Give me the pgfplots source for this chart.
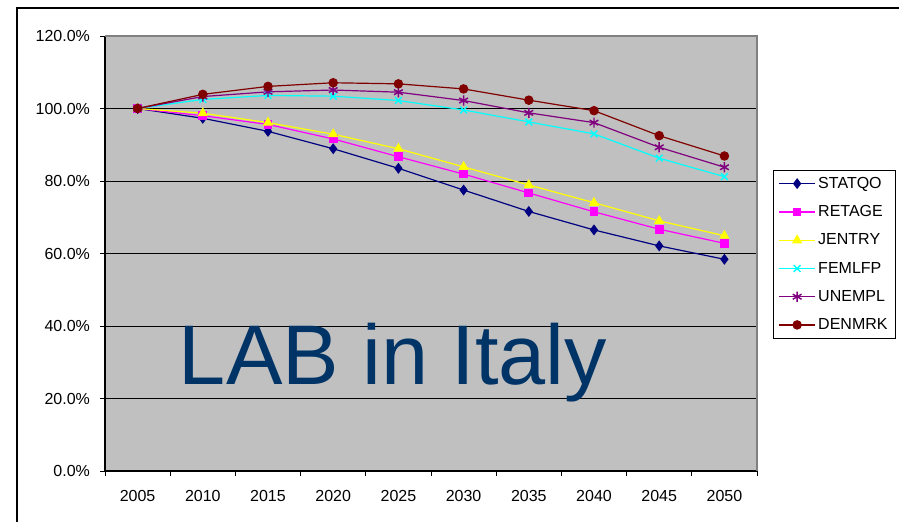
\documentclass[border=0pt]{standalone}
\usepackage{fontspec}
\setmainfont{Liberation Sans}
\usepackage{pgfplots}
\pgfplotsset{compat=1.18}
\definecolor{plotgray}{HTML}{C0C0C0}
\definecolor{framegray}{HTML}{808080}
\definecolor{titleblue}{HTML}{003366}
\definecolor{statqo}{HTML}{000080}
\definecolor{retage}{HTML}{FF00FF}
\definecolor{jentry}{HTML}{FFFF00}
\definecolor{femlfp}{HTML}{00FFFF}
\definecolor{unempl}{HTML}{800080}
\definecolor{denmrk}{HTML}{800000}

\pgfplotstableread{
year statqo retage jentry femlfp unempl denmrk
2005 100.0 100.0 100.0 100.0 100.0 100.0
2010 97.3 98.0 98.7 102.5 103.3 103.9
2015 93.7 95.6 96.1 103.6 104.6 106.1
2020 88.9 91.6 92.9 103.4 105.1 107.1
2025 83.5 86.7 88.9 102.2 104.5 106.8
2030 77.5 81.9 83.9 99.6 102.2 105.4
2035 71.6 76.7 78.9 96.3 98.8 102.3
2040 66.5 71.5 74.0 93.0 96.1 99.4
2045 62.1 66.7 69.0 86.3 89.3 92.5
2050 58.4 62.8 64.9 81.2 83.8 86.9
}\labdata

\begin{document}
\begin{tikzpicture}
  \useasboundingbox (0,0) rectangle (674.25pt,391.5pt);
  % chart frame (only left and top edges are visible)
  \draw[line width=1.1pt] (12.75pt,0) -- (12.75pt,385.5pt) -- (674.25pt,385.5pt);
  \begin{axis}[
    scale only axis,
    width=489pt,
    height=326.25pt,
    at={(78.75pt,38.25pt)},
    anchor=south west,
    xmin=2002.5, xmax=2052.5,
    ymin=0, ymax=120,
    axis lines=left,
    axis line style={-, black, line width=0.8pt},
    axis background/.style={fill=plotgray},
    xtick={2005,2010,...,2050},
    xticklabels={2005,2010,2015,2020,2025,2030,2035,2040,2045,2050},
    minor xtick={2002.5,2007.5,...,2052.5},
    ytick={0,20,...,120},
    yticklabels={0.0\%,20.0\%,40.0\%,60.0\%,80.0\%,100.0\%,120.0\%},
    tick align=outside,
    major tick length=3.75pt,
    minor tick length=3.75pt,
    x tick style={draw=none},
    minor x tick style={draw=black, line width=0.6pt},
    y tick style={black, line width=0.6pt},
    ymajorgrids,
    major grid style={black, line width=0.6pt},
    tick label style={font=\fontsize{12}{14}\selectfont},
    xticklabel style={yshift=-7.5pt},
    yticklabel style={xshift=-4pt},
    /pgf/number format/assume math mode=true,
    every axis plot/.append style={line width=0.9pt},
    legend style={
      at={(1.0245,0.692)}, anchor=north west,
      draw=black, fill=white, line width=0.6pt,
      font=\fontsize{12}{14}\selectfont,
      row sep=7.4pt, inner xsep=4pt, inner ysep=3pt,
      cells={anchor=west},
    },
    legend image code/.code={
      \draw[mark repeat=2, mark phase=2]
        plot coordinates {(0cm,0cm) (0.47cm,0cm) (0.94cm,0cm)};
    },
    clip=false,
  ]
    \addplot[statqo, mark=diamond*, mark size=3.4pt] table[x=year, y=statqo] {\labdata};
    \addlegendentry{STATQO}
    \addplot[retage, mark=square*, mark size=2.8pt] table[x=year, y=retage] {\labdata};
    \addlegendentry{RETAGE}
    \addplot[jentry, mark=triangle*, mark size=3.6pt] table[x=year, y=jentry] {\labdata};
    \addlegendentry{JENTRY}
    \addplot[femlfp, mark=x, mark size=3.6pt, mark options={line width=1.1pt}] table[x=year, y=femlfp] {\labdata};
    \addlegendentry{FEMLFP}
    \addplot[unempl, mark=asterisk, mark size=3.8pt, mark options={line width=1.1pt}] table[x=year, y=unempl] {\labdata};
    \addlegendentry{UNEMPL}
    \addplot[denmrk, mark=*, mark size=3.1pt] table[x=year, y=denmrk] {\labdata};
    \addlegendentry{DENMRK}
    \draw[framegray, line width=0.8pt] (rel axis cs:0,1) -- (rel axis cs:1,1) -- (rel axis cs:1,0);
  \end{axis}
  \node[anchor=base west, inner sep=0pt, text=titleblue, font=\fontsize{63.5}{70}\selectfont]
    at (134pt,103.5pt) {LAB in Italy};
\end{tikzpicture}
\end{document}
